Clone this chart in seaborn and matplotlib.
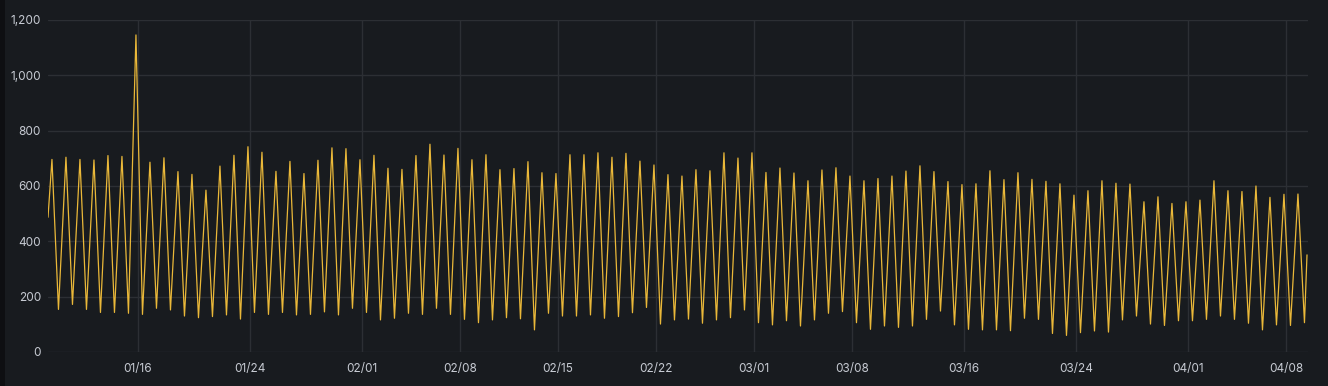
import matplotlib
matplotlib.use("Agg")
import matplotlib.pyplot as plt
import matplotlib.dates as mdates
from matplotlib.ticker import FuncFormatter, MultipleLocator
import seaborn as sns
import pandas as pd
import numpy as np

# ---- data ----
start_value = 487
end_value = 351
peak_values = [696, 704, 696, 694, 710, 707, 1146, 686, 702, 652,
               642, 585, 672, 711, 742, 722, 653, 689, 645, 693,
               738, 735, 695, 711, 664, 660, 710, 751, 712, 736,
               695, 713, 659, 663, 688, 648, 645, 713, 713, 720,
               704, 718, 690, 676, 641, 636, 659, 655, 720, 701,
               720, 649, 665, 647, 619, 658, 666, 636, 619, 627,
               636, 654, 673, 652, 616, 605, 608, 655, 623, 648,
               624, 617, 608, 567, 583, 619, 610, 607, 543, 561,
               537, 543, 549, 619, 583, 580, 600, 559, 570, 571]
trough_values = [154, 172, 154, 143, 143, 140, 136, 158, 152, 130,
                 124, 128, 134, 119, 143, 136, 143, 134, 136, 145,
                 134, 158, 143, 116, 122, 140, 136, 158, 136, 118,
                 106, 116, 124, 120, 80, 140, 130, 130, 134, 122,
                 128, 142, 161, 101, 116, 119, 104, 116, 124, 152,
                 106, 98, 113, 94, 116, 140, 146, 106, 82, 94,
                 89, 94, 118, 148, 98, 82, 80, 80, 77, 122,
                 118, 67, 60, 70, 76, 72, 116, 130, 101, 96,
                 113, 113, 118, 130, 118, 104, 80, 98, 96, 106]
tick_dates = ["2023-01-16", "2023-01-24", "2023-02-01", "2023-02-08",
              "2023-02-15", "2023-02-22", "2023-03-01", "2023-03-08",
              "2023-03-16", "2023-03-24", "2023-04-01", "2023-04-08"]

start_time = pd.Timestamp("2023-01-09 13:43")
end_time = pd.Timestamp("2023-04-09 12:00")
x_min = pd.Timestamp("2023-01-09 13:43")
x_max = pd.Timestamp("2023-04-09 13:43")

n = len(peak_values)
peak_times = pd.date_range("2023-01-09 20:30", periods=n, freq="D")
trough_times = pd.date_range("2023-01-10 07:40", periods=n, freq="D")

times = [start_time]
vals = [start_value]
for pt, pv, tt, tv in zip(peak_times, peak_values, trough_times, trough_values):
    times += [pt, tt]
    vals += [pv, tv]
times.append(end_time)
vals.append(end_value)
df = pd.DataFrame({"time": times, "value": vals})

# ---- style ----
bg = "#181b1f"
grid = "#2c2f34"
label_col = "#c7cbd3"
line_col = "#EAB839"

sns.set_theme(style="dark")
plt.rcParams["font.family"] = ["Inter", "DejaVu Sans"]

fig = plt.figure(figsize=(13.28, 3.86), dpi=100, facecolor=bg)
ax = fig.add_axes([48 / 1328, 1 - 352 / 386, (1308 - 48) / 1328, (352 - 20) / 386])
ax.set_facecolor(bg)
# darker strip at the very left edge
fig.patches.append(plt.Rectangle((0, 0), 5 / 1328, 1, transform=fig.transFigure,
                                 facecolor="#0e0f12", edgecolor="none", zorder=-1))

sns.lineplot(data=df, x="time", y="value", ax=ax, color=line_col, linewidth=0.9)

ax.set_xlim(x_min, x_max)
ax.set_ylim(0, 1200)
ax.yaxis.set_major_locator(MultipleLocator(200))
ax.yaxis.set_major_formatter(FuncFormatter(lambda v, p: f"{int(v):,}"))
ax.set_xticks(pd.to_datetime(tick_dates))
ax.xaxis.set_major_formatter(mdates.DateFormatter("%m/%d"))

ax.grid(True, color=grid, linewidth=1.0)
ax.set_axisbelow(True)
for s in ax.spines.values():
    s.set_visible(False)
ax.tick_params(axis="both", colors=label_col, labelsize=8.5, length=0, pad=6)
ax.tick_params(axis="y", pad=5)
ax.tick_params(axis="x", pad=8)
ax.set_xlabel("")
ax.set_ylabel("")

fig.savefig("out.png", dpi=100, facecolor=bg)
